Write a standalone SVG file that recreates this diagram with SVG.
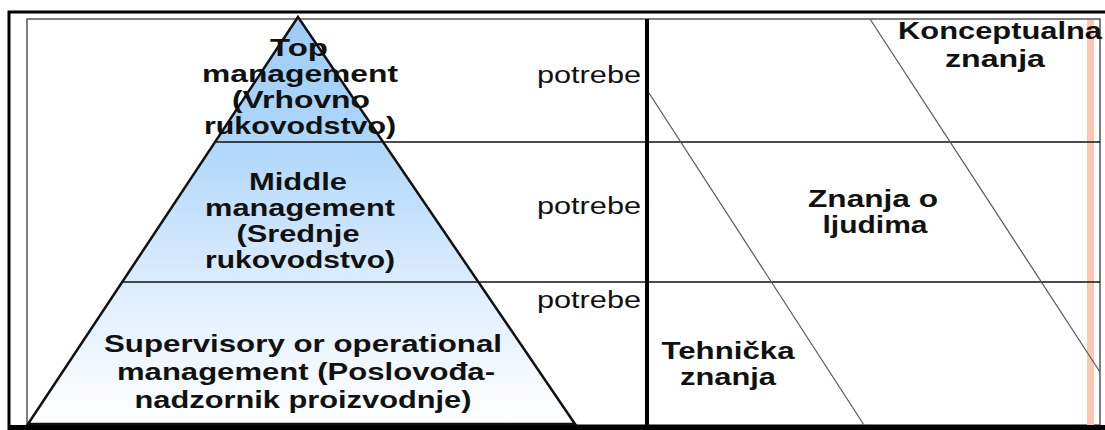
<svg xmlns="http://www.w3.org/2000/svg" width="1105" height="430" viewBox="0 0 1105 430">
<style>
.t{font-family:"Liberation Sans",Arial,sans-serif;font-size:23px;font-weight:bold;fill:#111;text-anchor:middle}
.p{font-family:"Liberation Sans",Arial,sans-serif;font-size:23px;fill:#111;text-anchor:end}
.hl{stroke:#111;stroke-width:1.5;fill:none}
.dg{stroke:#555;stroke-width:1.2;fill:none}
</style>
<defs>
<linearGradient id="pg" gradientUnits="userSpaceOnUse" x1="0" y1="17" x2="0" y2="424">
<stop offset="0" stop-color="#9ecbf7"/>
<stop offset="0.3" stop-color="#add6fa"/>
<stop offset="0.65" stop-color="#dcecfd"/>
<stop offset="1" stop-color="#ffffff"/>
</linearGradient>
</defs>
<rect x="0" y="0" width="1105" height="430" fill="#fff"/>
<rect x="27" y="19" width="1073" height="406" fill="none" stroke="#555" stroke-width="1.5"/>
<path d="M9,430 V12 H1105" fill="none" stroke="#000" stroke-width="3"/>
<rect x="8" y="425" width="1097" height="5" fill="#000"/>
<rect x="1087" y="20" width="7" height="405" fill="#ffc6b2"/>
<g id="pyramid">
<polygon points="298,17 28,424 575,424" fill="url(#pg)" stroke="#111" stroke-width="2.5" stroke-linejoin="miter"/>
</g>
<g id="connectors">
<line class="hl" x1="215" y1="142" x2="1100" y2="142"/>
<line class="hl" x1="122" y1="282" x2="1100" y2="282"/>
<line x1="647" y1="19" x2="647" y2="425" stroke="#000" stroke-width="4"/>
<line class="dg" x1="649" y1="93" x2="864" y2="425"/>
<line class="dg" x1="870" y1="19" x2="1100" y2="372"/>
</g>
<g id="top-management">
<text class="t" x="299" y="56" textLength="58" lengthAdjust="spacingAndGlyphs">Top</text>
<text class="t" x="300" y="82" textLength="196" lengthAdjust="spacingAndGlyphs">management</text>
<text class="t" x="301" y="108" textLength="138" lengthAdjust="spacingAndGlyphs">(Vrhovno</text>
<text class="t" x="300" y="134" textLength="192" lengthAdjust="spacingAndGlyphs">rukovodstvo)</text>
</g>
<g id="middle-management">
<text class="t" x="298" y="190" textLength="98" lengthAdjust="spacingAndGlyphs">Middle</text>
<text class="t" x="300" y="216" textLength="190" lengthAdjust="spacingAndGlyphs">management</text>
<text class="t" x="298" y="242" textLength="123" lengthAdjust="spacingAndGlyphs">(Srednje</text>
<text class="t" x="300" y="268" textLength="190" lengthAdjust="spacingAndGlyphs">rukovodstvo)</text>
</g>
<g id="supervisory-management">
<text class="t" x="303" y="352" textLength="398" lengthAdjust="spacingAndGlyphs">Supervisory or operational</text>
<text class="t" x="306" y="380" textLength="378" lengthAdjust="spacingAndGlyphs">management (Poslovođa-</text>
<text class="t" x="303" y="408" textLength="337" lengthAdjust="spacingAndGlyphs">nadzornik proizvodnje)</text>
</g>
<g id="potrebe-1"><text class="p" x="641" y="83" textLength="104" lengthAdjust="spacingAndGlyphs">potrebe</text></g>
<g id="potrebe-2"><text class="p" x="641" y="214" textLength="104" lengthAdjust="spacingAndGlyphs">potrebe</text></g>
<g id="potrebe-3"><text class="p" x="641" y="308" textLength="104" lengthAdjust="spacingAndGlyphs">potrebe</text></g>
<g id="konceptualna-znanja">
<text class="t" x="1000" y="39" textLength="204" lengthAdjust="spacingAndGlyphs">Konceptualna</text>
<text class="t" x="995" y="67" textLength="100" lengthAdjust="spacingAndGlyphs">znanja</text>
</g>
<g id="znanja-o-ljudima">
<text class="t" x="873" y="207" textLength="130" lengthAdjust="spacingAndGlyphs">Znanja o</text>
<text class="t" x="875" y="233" textLength="105" lengthAdjust="spacingAndGlyphs">ljudima</text>
</g>
<g id="tehnicka-znanja">
<text class="t" x="728" y="359" textLength="133" lengthAdjust="spacingAndGlyphs">Tehnička</text>
<text class="t" x="728" y="385" textLength="96" lengthAdjust="spacingAndGlyphs">znanja</text>
</g>
</svg>
